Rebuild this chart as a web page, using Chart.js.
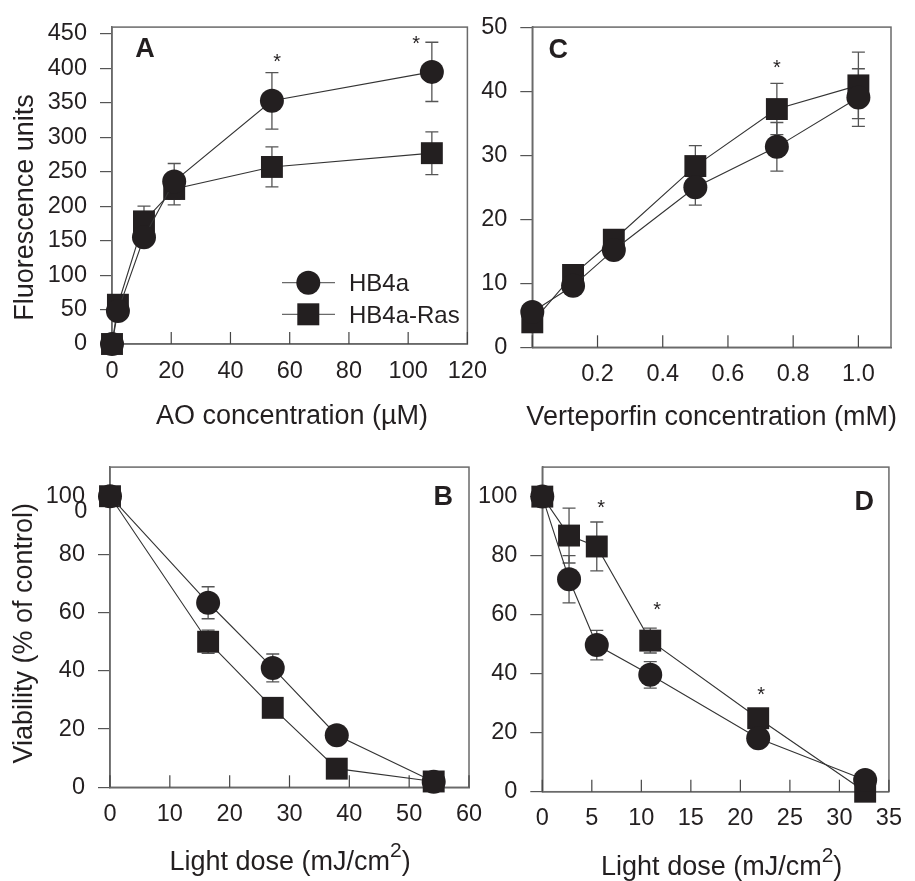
<!DOCTYPE html>
<html>
<head>
<meta charset="utf-8">
<script src="https://cdn.jsdelivr.net/npm/chart.js@4.4.0/dist/chart.umd.min.js"></script>
<style>
  body { margin: 0; background: #fff; width: 915px; height: 881px; position: relative; overflow: hidden; }
  canvas { position: absolute; }
</style>
</head>
<body>
<canvas id="panelA" width="500" height="440" style="left:0;top:0"></canvas>
<canvas id="panelC" width="445" height="440" style="left:470px;top:0"></canvas>
<canvas id="panelB" width="500" height="441" style="left:0;top:440px"></canvas>
<canvas id="panelD" width="445" height="441" style="left:470px;top:440px"></canvas>
<script>
// ---- data ----
// A: acridine orange uptake
const aoConc = [0, 2, 10.8, 21, 54, 108];
const aoHB4a = [0, 48, 155, 236, 353, 395];
const aoHB4aErr = [0, 0, 0, 26, 41, 43];
const aoRas = [0, 57, 178, 225, 257, 277];
const aoRasErr = [0, 0, 22, 23, 29, 31];
const aoStars = [[55.8, 418], [102.7, 444]];
const aoXTicks = [0, 20, 40, 60, 80, 100, 120];
const aoYTicks = [0, 50, 100, 150, 200, 250, 300, 350, 400, 450];

// C: verteporfin uptake
const vpConc = [0, 0.125, 0.25, 0.5, 0.75, 1.0];
const vpHB4a = [5.5, 9.6, 15.2, 25.0, 31.3, 39.0];
const vpHB4aErr = [0, 0, 0, 2.8, 3.8, 4.5];
const vpRas = [3.9, 11.3, 16.8, 28.3, 37.2, 40.9];
const vpRasErr = [0, 0, 1.5, 3.2, 4.0, 5.2];
const vpStars = [[0.75, 44.5]];
const vpXTicks = [0, 0.2, 0.4, 0.6, 0.8, 1.0];
const vpYTicks = [0, 10, 20, 30, 40, 50];

// B: viability after AO + light
const bDose = [0, 16.4, 27.2, 37.9, 54.1];
const bHB4a = [100, 63.4, 41.0, 17.9, 1.9];
const bHB4aErr = [0, 5.5, 4.8, 0, 0];
const bRas = [100, 50.0, 27.3, 6.4, 2.0];
const bRasErr = [0, 4.0, 0, 0, 0];
const bXTicks = [0, 10, 20, 30, 40, 50, 60];
const bYTicks = [0, 20, 40, 60, 80, 100];

// D: viability after verteporfin + light
const dDose = [0, 2.7, 5.5, 10.9, 21.8, 32.6];
const dHB4a = [100, 72.0, 49.7, 39.6, 18.1, 4.0];
const dHB4aErr = [0, 8.0, 5.0, 4.5, 0, 0];
const dRas = [100, 86.8, 83.1, 51.2, 24.9, 0];
const dRasErr = [0, 9.3, 8.3, 4.2, 0, 0];
const dStars = [[5.95, 98], [11.6, 63.3], [22.1, 34.7]];
const dXTicks = [0, 5, 10, 15, 20, 25, 30, 35];
const dYTicks = [0, 20, 40, 60, 80, 100];

const FONT = "'Liberation Sans', Arial, Helvetica, sans-serif";
const INK = '#231f20';
const AXIS = '#6a6a6a';

function series(xs, ys, style, r) {
  return {
    data: xs.map((x, i) => ({ x: x, y: ys[i] })),
    showLine: true,
    borderColor: '#333',
    borderWidth: 1.1,
    pointStyle: style,
    pointRadius: r,
    pointHoverRadius: r,
    pointBackgroundColor: INK,
    pointBorderColor: INK,
    pointBorderWidth: 0,
    clip: false
  };
}

function drawRich(ctx, parts, cx, base) {
  let w = 0;
  parts.forEach(p => { ctx.font = p.size + 'px ' + FONT; p.w = ctx.measureText(p.t).width; w += p.w; });
  let x = cx - w / 2;
  ctx.textAlign = 'left';
  ctx.textBaseline = 'alphabetic';
  parts.forEach(p => {
    ctx.font = p.size + 'px ' + FONT;
    ctx.fillText(p.t, x, base + (p.dy || 0));
    x += p.w;
  });
}

function decor(p) {
  return {
    id: 'decor',
    beforeDatasetsDraw(chart) {
      const { ctx, chartArea: a, scales: { x, y } } = chart;
      ctx.save();
      // box round the plot
      ctx.strokeStyle = AXIS;
      ctx.lineWidth = 1.5;
      ctx.strokeRect(a.left, a.top, a.right - a.left, a.bottom - a.top);
      // x ticks point inward
      ctx.strokeStyle = '#444';
      ctx.lineWidth = 1.2;
      x.ticks.forEach(t => {
        const px = x.getPixelForValue(t.value);
        ctx.beginPath(); ctx.moveTo(px, a.bottom); ctx.lineTo(px, a.bottom - 12); ctx.stroke();
      });
      // error bars
      ctx.strokeStyle = '#555';
      ctx.lineWidth = 1.3;
      chart.data.datasets.forEach((ds, i) => {
        ds.data.forEach((pt, j) => {
          const e = p.errors[i][j];
          if (!e) return;
          const px = x.getPixelForValue(pt.x);
          const top = y.getPixelForValue(pt.y + e), bot = y.getPixelForValue(pt.y - e);
          ctx.beginPath();
          ctx.moveTo(px, top); ctx.lineTo(px, bot);
          ctx.moveTo(px - 6.5, top); ctx.lineTo(px + 6.5, top);
          ctx.moveTo(px - 6.5, bot); ctx.lineTo(px + 6.5, bot);
          ctx.stroke();
        });
      });
      ctx.restore();
    },
    afterDraw(chart) {
      const { ctx, scales: { x, y } } = chart;
      ctx.save();
      ctx.fillStyle = INK;
      // significance stars
      ctx.font = '20px ' + FONT;
      ctx.textAlign = 'center';
      ctx.textBaseline = 'alphabetic';
      p.stars.forEach(s => ctx.fillText('*', x.getPixelForValue(s[0]), y.getPixelForValue(s[1]) + 11.5));
      // free text: titles, panel letter
      p.texts.forEach(t => {
        ctx.save();
        ctx.font = (t.bold ? 'bold ' : '') + t.size + 'px ' + FONT;
        ctx.textAlign = t.align || 'center';
        ctx.textBaseline = 'alphabetic';
        ctx.translate(t.x, t.y);
        if (t.rot) ctx.rotate(t.rot);
        if (t.parts) drawRich(ctx, t.parts, 0, 0);
        else ctx.fillText(t.t, 0, 0);
        ctx.restore();
      });
      // legend (panel A only)
      if (p.legend) {
        const lg = p.legend;
        lg.rows.forEach(r => {
          ctx.strokeStyle = AXIS;
          ctx.lineWidth = 1.2;
          ctx.beginPath(); ctx.moveTo(lg.x0, r.y); ctx.lineTo(lg.x1, r.y); ctx.stroke();
          ctx.fillStyle = INK;
          ctx.beginPath();
          if (r.style === 'circle') ctx.arc(lg.mx, r.y, 12, 0, Math.PI * 2);
          else ctx.rect(lg.mx - 11, r.y - 11, 22, 22);
          ctx.fill();
          ctx.font = '24px ' + FONT;
          ctx.textAlign = 'left';
          ctx.fillText(r.label, lg.tx, r.y + 8.6);
        });
      }
      ctx.restore();
    }
  };
}

function makePanel(id, p) {
  const cv = document.getElementById(id);
  const W = cv.width, H = cv.height;
  const tickFont = { family: FONT, size: 23.5 };
  return new Chart(cv, {
    type: 'scatter',
    data: {
      datasets: [
        series(p.x, p.y1, 'circle', 12),
        series(p.x, p.y2, 'rect', 15.5)
      ]
    },
    options: {
      responsive: false,
      animation: false,
      events: [],
      layout: { padding: { left: 0, top: p.area[1], right: W - p.area[2], bottom: 0 } },
      plugins: { legend: { display: false }, tooltip: { enabled: false } },
      scales: {
        x: {
          type: 'linear',
          min: p.xMin, max: p.xMax,
          afterBuildTicks: s => { s.ticks = p.xTicks.map(v => ({ value: v })); },
          afterFit: s => { s.height = H - p.area[3]; },
          grid: { display: false, drawTicks: false },
          border: { display: true, color: AXIS, width: 1.5 },
          ticks: { padding: 13, color: INK, font: tickFont, maxRotation: 0, autoSkip: false, callback: p.xFmt || (v => String(v)) }
        },
        y: {
          type: 'linear',
          min: p.yMin, max: p.yMax,
          afterBuildTicks: s => { s.ticks = p.yTicks.map(v => ({ value: v })); },
          afterFit: s => { s.width = p.area[0]; },
          grid: { display: true, drawOnChartArea: false, drawTicks: true, tickLength: 12, color: '#555', lineWidth: 1.2 },
          border: { display: true, color: AXIS, width: 1.5 },
          ticks: { padding: 13, color: INK, font: tickFont, autoSkip: false, callback: v => String(v) }
        }
      }
    },
    plugins: [decor(p)]
  });
}

const lightTitle = [
  { t: 'Light dose (mJ/cm', size: 27 },
  { t: '2', size: 21, dy: -13 },
  { t: ')', size: 27 }
];

makePanel('panelA', {
  x: aoConc, y1: aoHB4a, y2: aoRas, errors: [aoHB4aErr, aoRasErr], stars: aoStars,
  xMin: 0, xMax: 120, yMin: 0, yMax: 460, xTicks: aoXTicks, yTicks: aoYTicks,
  area: [112, 20, 471, 344],
  texts: [
    { t: 'A', x: 145, y: 56.7, size: 27, bold: true },
    { t: 'AO concentration (\u00b5M)', x: 292, y: 424, size: 27 },
    { t: 'Fluorescence units', x: 33, y: 207.5, size: 27, rot: -Math.PI / 2 }
  ],
  legend: {
    x0: 282, x1: 335, mx: 308.3, tx: 349,
    rows: [{ y: 282.7, style: 'circle', label: 'HB4a' }, { y: 314.3, style: 'rect', label: 'HB4a-Ras' }]
  }
});

makePanel('panelC', {
  x: vpConc, y1: vpHB4a, y2: vpRas, errors: [vpHB4aErr, vpRasErr], stars: vpStars,
  xMin: 0, xMax: 1.1, yMin: 0, yMax: 50, xTicks: vpXTicks, yTicks: vpYTicks,
  area: [62.3, 22.7, 421, 347.3],
  xFmt: v => (v === 0 ? '' : v.toFixed(1)),
  texts: [
    { t: 'C', x: 88.3, y: 58, size: 27, bold: true },
    { t: 'Verteporfin concentration (mM)', x: 241.7, y: 425, size: 27 }
  ]
});

makePanel('panelB', {
  x: bDose, y1: bHB4a, y2: bRas, errors: [bHB4aErr, bRasErr], stars: [],
  xMin: 0, xMax: 60, yMin: 0, yMax: 110, xTicks: bXTicks, yTicks: bYTicks,
  area: [110, 22.7, 469, 347.3],
  texts: [
    { t: 'B', x: 443.3, y: 65, size: 27, bold: true },
    { t: '0', x: 87.3, y: 78.4, size: 23.5, align: 'right' },
    { parts: lightTitle, x: 290, y: 430 },
    { t: 'Viability (% of control)', x: 32, y: 193.3, size: 27, rot: -Math.PI / 2 }
  ]
});

makePanel('panelD', {
  x: dDose, y1: dHB4a, y2: dRas, errors: [dHB4aErr, dRasErr], stars: dStars,
  xMin: 0, xMax: 35, yMin: 0, yMax: 110, xTicks: dXTicks, yTicks: dYTicks,
  area: [72.3, 26.7, 431, 351.7],
  texts: [
    { t: 'D', x: 394.3, y: 70, size: 27, bold: true },
    { parts: lightTitle, x: 251.7, y: 435 }
  ]
});
</script>
</body>
</html>
